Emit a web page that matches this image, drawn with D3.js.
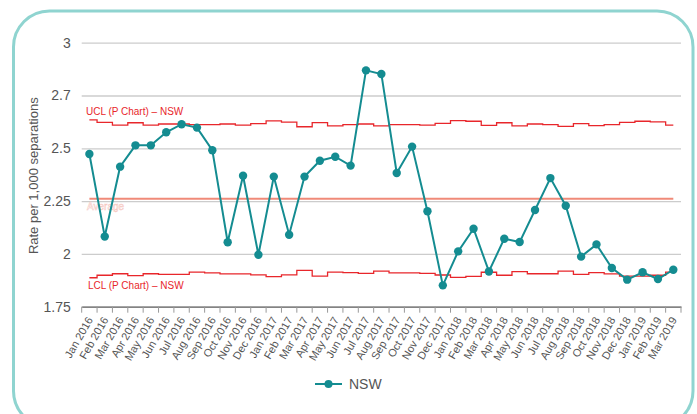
<!DOCTYPE html>
<html>
<head>
<meta charset="utf-8">
<script src="https://cdn.jsdelivr.net/npm/d3@7"></script>
<style>
  html, body { margin: 0; padding: 0; background: #fff; }
  svg text { font-family: "Liberation Sans", Arial, Helvetica, sans-serif; }
</style>
</head>
<body>
<div id="chart-area"></div>
<script>
// Monthly categories, Jan 2016 - Mar 2019
var months = ["Jan 2016", "Feb 2016", "Mar 2016", "Apr 2016", "May 2016", "Jun 2016",
    "Jul 2016", "Aug 2016", "Sep 2016", "Oct 2016", "Nov 2016", "Dec 2016",
    "Jan 2017", "Feb 2017", "Mar 2017", "Apr 2017", "May 2017", "Jun 2017",
    "Jul 2017", "Aug 2017", "Sep 2017", "Oct 2017", "Nov 2017", "Dec 2017",
    "Jan 2018", "Feb 2018", "Mar 2018", "Apr 2018", "May 2018", "Jun 2018",
    "Jul 2018", "Aug 2018", "Sep 2018", "Oct 2018", "Nov 2018", "Dec 2018",
    "Jan 2019", "Feb 2019", "Mar 2019"];

// NSW rate per 1,000 separations
var nsw = [2.473, 2.082, 2.413, 2.514, 2.514, 2.576, 2.614, 2.598, 2.491, 2.055,
    2.370, 1.996, 2.366, 2.091, 2.366, 2.441, 2.460, 2.418, 2.869, 2.852,
    2.383, 2.508, 2.202, 1.851, 2.012, 2.119, 1.917, 2.072, 2.056, 2.208,
    2.359, 2.228, 1.987, 2.045, 1.933, 1.878, 1.913, 1.881, 1.925];

// control limits (P chart)
var ucl = [2.635, 2.623, 2.610, 2.621, 2.610, 2.615, 2.615, 2.612, 2.612, 2.615,
    2.610, 2.617, 2.630, 2.624, 2.602, 2.622, 2.606, 2.612, 2.615, 2.606,
    2.612, 2.612, 2.610, 2.618, 2.631, 2.628, 2.609, 2.621, 2.606, 2.615,
    2.612, 2.604, 2.617, 2.607, 2.612, 2.623, 2.628, 2.625, 2.610];

var lcl = [1.887, 1.899, 1.906, 1.897, 1.906, 1.903, 1.903, 1.914, 1.910, 1.905,
    1.905, 1.901, 1.892, 1.901, 1.922, 1.895, 1.914, 1.911, 1.908, 1.918,
    1.910, 1.910, 1.908, 1.900, 1.889, 1.894, 1.913, 1.899, 1.916, 1.906,
    1.906, 1.918, 1.903, 1.911, 1.905, 1.895, 1.895, 1.899, 1.914];

var average = 2.261;

// y ticks and the labels shown for them
var yTicks = [1.75, 2, 2.25, 2.5, 2.75, 3];
var yTickLabels = ["1.75", "2", "2.25", "2.5", "2.7", "3"];

var W = 697, H = 414;
var plot = {left: 81.7, right: 681, top: 42.7, bottom: 306.7};

var svg = d3.select("#chart-area")
    .append("svg")
        .attr("width", W)
        .attr("height", H);

// rounded frame
svg.append("rect")
    .attr("x", 13.5)
    .attr("y", 11)
    .attr("width", 679.5)
    .attr("height", 416)
    .attr("rx", 36)
    .attr("ry", 36)
    .attr("fill", "#fff")
    .attr("stroke", "#8fd4d0")
    .attr("stroke-width", 3);

var x = d3.scaleBand()
    .domain(months)
    .range([plot.left, plot.right])
    .padding(0);

var y = d3.scaleLinear()
    .domain([1.75, 3])
    .range([plot.bottom, plot.top]);

function cx(d, i) { return x(months[i]) + x.bandwidth() / 2; }

// gridlines + y labels
var yAxisCall = d3.axisLeft(y)
    .tickValues(yTicks)
    .tickSize(-(plot.right - plot.left))
    .tickPadding(11)
    .tickFormat(function (d, i) { return yTickLabels[i]; });

var yAxisGroup = svg.append("g")
    .attr("transform", "translate(" + plot.left + ",0)")
    .call(yAxisCall);
yAxisGroup.select(".domain").remove();
yAxisGroup.selectAll(".tick line")
    .attr("stroke", "#cccccc")
    .attr("stroke-width", 1.3);
yAxisGroup.selectAll(".tick text")
    .attr("fill", "#555")
    .attr("font-size", "14px");

// x axis
var xAxisCall = d3.axisBottom(x).tickSize(0).tickFormat("");
var xAxisGroup = svg.append("g")
    .attr("transform", "translate(0," + plot.bottom + ")")
    .call(xAxisCall);
xAxisGroup.select(".domain")
    .attr("stroke", "#666")
    .attr("stroke-width", 1.3);

// tick marks on band boundaries
var bounds = months.map(function (m) { return x(m); }).concat([plot.right]);
xAxisGroup.selectAll("line.bound")
    .data(bounds)
    .enter().append("line")
        .attr("class", "bound")
        .attr("x1", function (d) { return d; })
        .attr("x2", function (d) { return d; })
        .attr("y1", 0)
        .attr("y2", 6)
        .attr("stroke", "#999")
        .attr("stroke-width", 1);

svg.append("g").selectAll("text")
    .data(months)
    .enter().append("text")
        .attr("transform", function (d) {
            return "translate(" + (x(d) + x.bandwidth() / 2 + 4) + "," + (plot.bottom + 13) + ") rotate(-60)";
        })
        .attr("text-anchor", "end")
        .attr("font-size", "11px")
        .attr("fill", "#555")
        .text(function (d) { return d; });

// Y label
svg.append("text")
    .attr("transform", "translate(38," + ((plot.top + plot.bottom) / 2 + 1) + ") rotate(-90)")
    .attr("text-anchor", "middle")
    .attr("font-size", "13px")
    .attr("fill", "#555")
    .text("Rate per 1,000 separations");

// control limit step lines
var stepLine = d3.line()
    .x(cx)
    .y(function (d) { return y(d); })
    .curve(d3.curveStep);

svg.append("path")
    .datum(ucl)
    .attr("d", stepLine)
    .attr("fill", "none")
    .attr("stroke", "#e8262b")
    .attr("stroke-width", 1.3);

svg.append("path")
    .datum(lcl)
    .attr("d", stepLine)
    .attr("fill", "none")
    .attr("stroke", "#e8262b")
    .attr("stroke-width", 1.3);

// average line
svg.append("line")
    .attr("x1", cx(null, 0))
    .attr("x2", cx(null, months.length - 1))
    .attr("y1", y(average))
    .attr("y2", y(average))
    .attr("stroke", "#f08a78")
    .attr("stroke-width", 2);

svg.append("text")
    .attr("x", 87)
    .attr("y", y(average) + 11)
    .attr("font-size", "10px")
    .attr("fill", "#fff")
    .attr("stroke", "#f5c4bc")
    .attr("stroke-width", 0.5)
    .text("Average");

svg.append("text")
    .attr("x", 86)
    .attr("y", 115)
    .attr("font-size", "10px")
    .attr("fill", "#e8262b")
    .text("UCL (P Chart) \u2013 NSW");

svg.append("text")
    .attr("x", 88)
    .attr("y", 289)
    .attr("font-size", "10px")
    .attr("fill", "#e8262b")
    .text("LCL (P Chart) \u2013 NSW");

// NSW series
var teal = "#148c91";
var line = d3.line()
    .x(cx)
    .y(function (d) { return y(d); });

svg.append("path")
    .datum(nsw)
    .attr("d", line)
    .attr("fill", "none")
    .attr("stroke", teal)
    .attr("stroke-width", 2);

svg.append("g").selectAll("circle")
    .data(nsw)
    .enter().append("circle")
        .attr("cx", cx)
        .attr("cy", function (d) { return y(d); })
        .attr("r", 4.2)
        .attr("fill", teal);

// legend
var legend = svg.append("g").attr("transform", "translate(315,384)");
legend.append("line")
    .attr("x1", 0).attr("x2", 27)
    .attr("stroke", teal).attr("stroke-width", 2);
legend.append("circle")
    .attr("cx", 13.5).attr("r", 4).attr("fill", teal);
legend.append("text")
    .attr("x", 34)
    .attr("y", 5)
    .attr("font-size", "14px")
    .attr("fill", "#555")
    .text("NSW");
</script>
</body>
</html>
